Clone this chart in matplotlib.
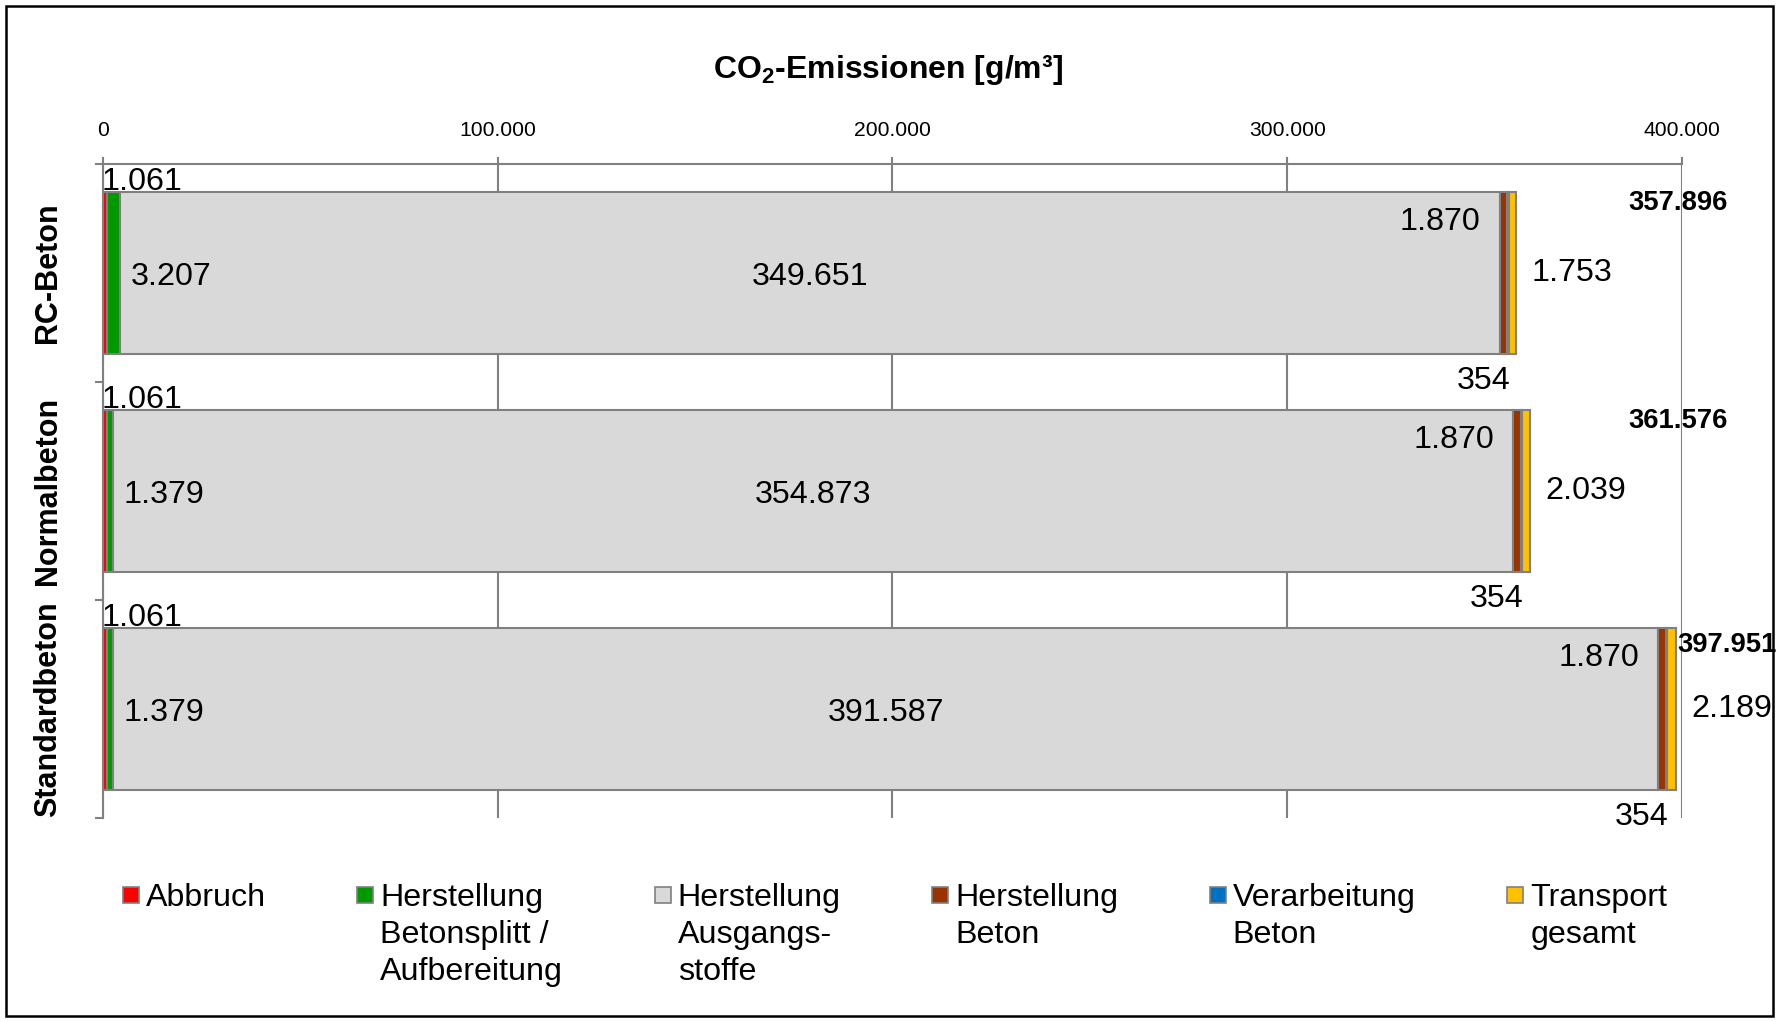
import matplotlib
matplotlib.use("Agg")
import matplotlib.pyplot as plt
from matplotlib.patches import Rectangle
from matplotlib.ticker import FuncFormatter, FixedLocator
import numpy as np

plt.rcParams['font.family'] = ['Liberation Sans', 'DejaVu Sans']
plt.rcParams['mathtext.fontset'] = 'custom'
plt.rcParams['mathtext.rm'] = 'Liberation Sans'
plt.rcParams['mathtext.bf'] = 'Liberation Sans:bold'

# data (g/m³)
categories = ["RC-Beton", "Normalbeton", "Standardbeton"]
series_names = ["Abbruch",
                "Herstellung\nBetonsplitt /\nAufbereitung",
                "Herstellung\nAusgangs-\nstoffe",
                "Herstellung\nBeton",
                "Verarbeitung\nBeton",
                "Transport\ngesamt"]
abbruch = [1061, 1061, 1061]
betonsplitt = [3207, 1379, 1379]
ausgangsstoffe = [349651, 354873, 391587]
herstellung_beton = [1870, 1870, 1870]
verarbeitung = [354, 354, 354]
transport = [1753, 2039, 2189]
totals = [357896, 361576, 397951]
x_ticks = [0, 100000, 200000, 300000, 400000]

colors = ["#FF0000", "#009A00", "#D9D9D9", "#993300", "#0070C0", "#FFC000"]
edge = "#808080"
val_size = 23.2


def fmt(v):
    return f"{v:,.0f}".replace(",", ".")


W, H = 1777, 1021
fig = plt.figure(figsize=(W / 100, H / 100), dpi=100)
ax = fig.add_axes([103 / W, 1 - 818 / H, (1682 - 103) / W, (818 - 164) / H])

y = np.arange(len(categories))
bar_h = 0.74
series = [abbruch, betonsplitt, ausgangsstoffe, herstellung_beton, verarbeitung, transport]
left = np.zeros(len(categories))
segs = []
for vals, name, c in zip(series, series_names, colors):
    vals = np.array(vals, dtype=float)
    ax.barh(y, vals, left=left, height=bar_h, color=c, edgecolor=edge,
            linewidth=1.5, zorder=3)
    segs.append((left.copy(), vals))
    left = left + vals

ax.set_xlim(0, 400000)
ax.set_ylim(len(categories) - 0.5, -0.5)

# axes styling
ax.xaxis.tick_top()
ax.xaxis.set_major_locator(FixedLocator(x_ticks))
ax.xaxis.set_major_formatter(FuncFormatter(lambda v, p: fmt(v)))
ax.tick_params(axis='x', direction='out', length=5, width=1.5, color=edge,
               labelsize=15.2, pad=12)
ax.grid(axis='x', color=edge, linewidth=1.5, zorder=0)
ax.set_axisbelow(True)
ax.set_yticks(y)
ax.set_yticklabels(categories, rotation=90, va='center', fontsize=22,
                   fontweight='bold')
ax.tick_params(axis='y', which='major', length=0, pad=29)
ax.set_yticks(np.arange(-0.5, len(categories)), minor=True)
ax.tick_params(axis='y', which='minor', direction='out', length=6,
               width=1.5, color=edge)
for s in ['right', 'bottom']:
    ax.spines[s].set_visible(False)
for s in ['top', 'left']:
    ax.spines[s].set_color(edge)
    ax.spines[s].set_linewidth(1.5)

# value labels
for i in range(len(categories)):
    top = y[i] - bar_h / 2
    bottom = y[i] + bar_h / 2
    l0, v0 = segs[0]
    ax.annotate(fmt(v0[i]), xy=(l0[i], top), xytext=(-1, 2), textcoords='offset points',
                ha='left', va='baseline', fontsize=val_size, zorder=5)
    l1, v1 = segs[1]
    ax.annotate(fmt(v1[i]), xy=(l1[i] + v1[i], y[i]), xytext=(8, -3),
                textcoords='offset points', ha='left', va='center', fontsize=val_size, zorder=5)
    l2, v2 = segs[2]
    ax.annotate(fmt(v2[i]), xy=(l2[i] + v2[i] / 2, y[i]), xytext=(0, -3),
                textcoords='offset points', ha='center', va='center', fontsize=val_size, zorder=5)
    l3, v3 = segs[3]
    ax.annotate(fmt(v3[i]), xy=(l3[i], y[i]), xytext=(-14, 37),
                textcoords='offset points', ha='right', va='center', fontsize=val_size, zorder=5)
    l4, v4 = segs[4]
    ax.annotate(fmt(v4[i]), xy=(l4[i] + v4[i], bottom), xytext=(1, -20),
                textcoords='offset points', ha='right', va='center', fontsize=val_size, zorder=5)
    l5, v5 = segs[5]
    ax.annotate(fmt(v5[i]), xy=(l5[i] + v5[i], y[i]), xytext=(11, 0),
                textcoords='offset points', ha='left', va='center', fontsize=val_size, zorder=5)
    # totals
    if totals[i] > 0.97 * ax.get_xlim()[1]:
        ax.annotate(fmt(totals[i]), xy=(left[i], top), xytext=(1, -12),
                    textcoords='offset points', ha='left', va='center',
                    fontsize=19.7, fontweight='bold', annotation_clip=False, zorder=5)
    else:
        ax.annotate(fmt(totals[i]), xy=(ax.get_xlim()[1], top), xytext=(-3, -8),
                    textcoords='offset points', ha='center', va='center',
                    fontsize=19.7, fontweight='bold', annotation_clip=False, zorder=5)

# title
fig.text(888 / W, 1 - 70 / H, r"CO$_\mathbf{2}$-Emissionen [g/m³]", ha='center',
         va='center', fontsize=23, fontweight='bold')

# legend (Excel-like, entries top aligned)
fig.canvas.draw()
renderer = fig.canvas.get_renderer()
sq, pad, gap = 16, 7, 91.5
texts, widths = [], []
for name in series_names:
    t = fig.text(0, 0, name, fontsize=val_size, ha='left', va='top', linespacing=1.3)
    texts.append(t)
    widths.append(t.get_window_extent(renderer).width)
total_w = sum(sq + pad + w for w in widths) + gap * (len(widths) - 1)
x = 895 - total_w / 2
line_c = 895
for t, w, c in zip(texts, widths, colors):
    fig.add_artist(Rectangle((x / W, 1 - (line_c + sq / 2) / H), sq / W, sq / H,
                             transform=fig.transFigure, facecolor=c, edgecolor=edge, lw=1.2))
    t.set_position(((x + sq + pad) / W, 1 - (line_c - 12) / H))
    x += sq + pad + w + gap

# outer frame
fig.add_artist(Rectangle((6 / W, 1 - 1016 / H), (1773 - 6) / W, (1016 - 6) / H,
                         transform=fig.transFigure, fill=False, edgecolor='black', lw=1.8))

fig.savefig("out.png", dpi=100)
